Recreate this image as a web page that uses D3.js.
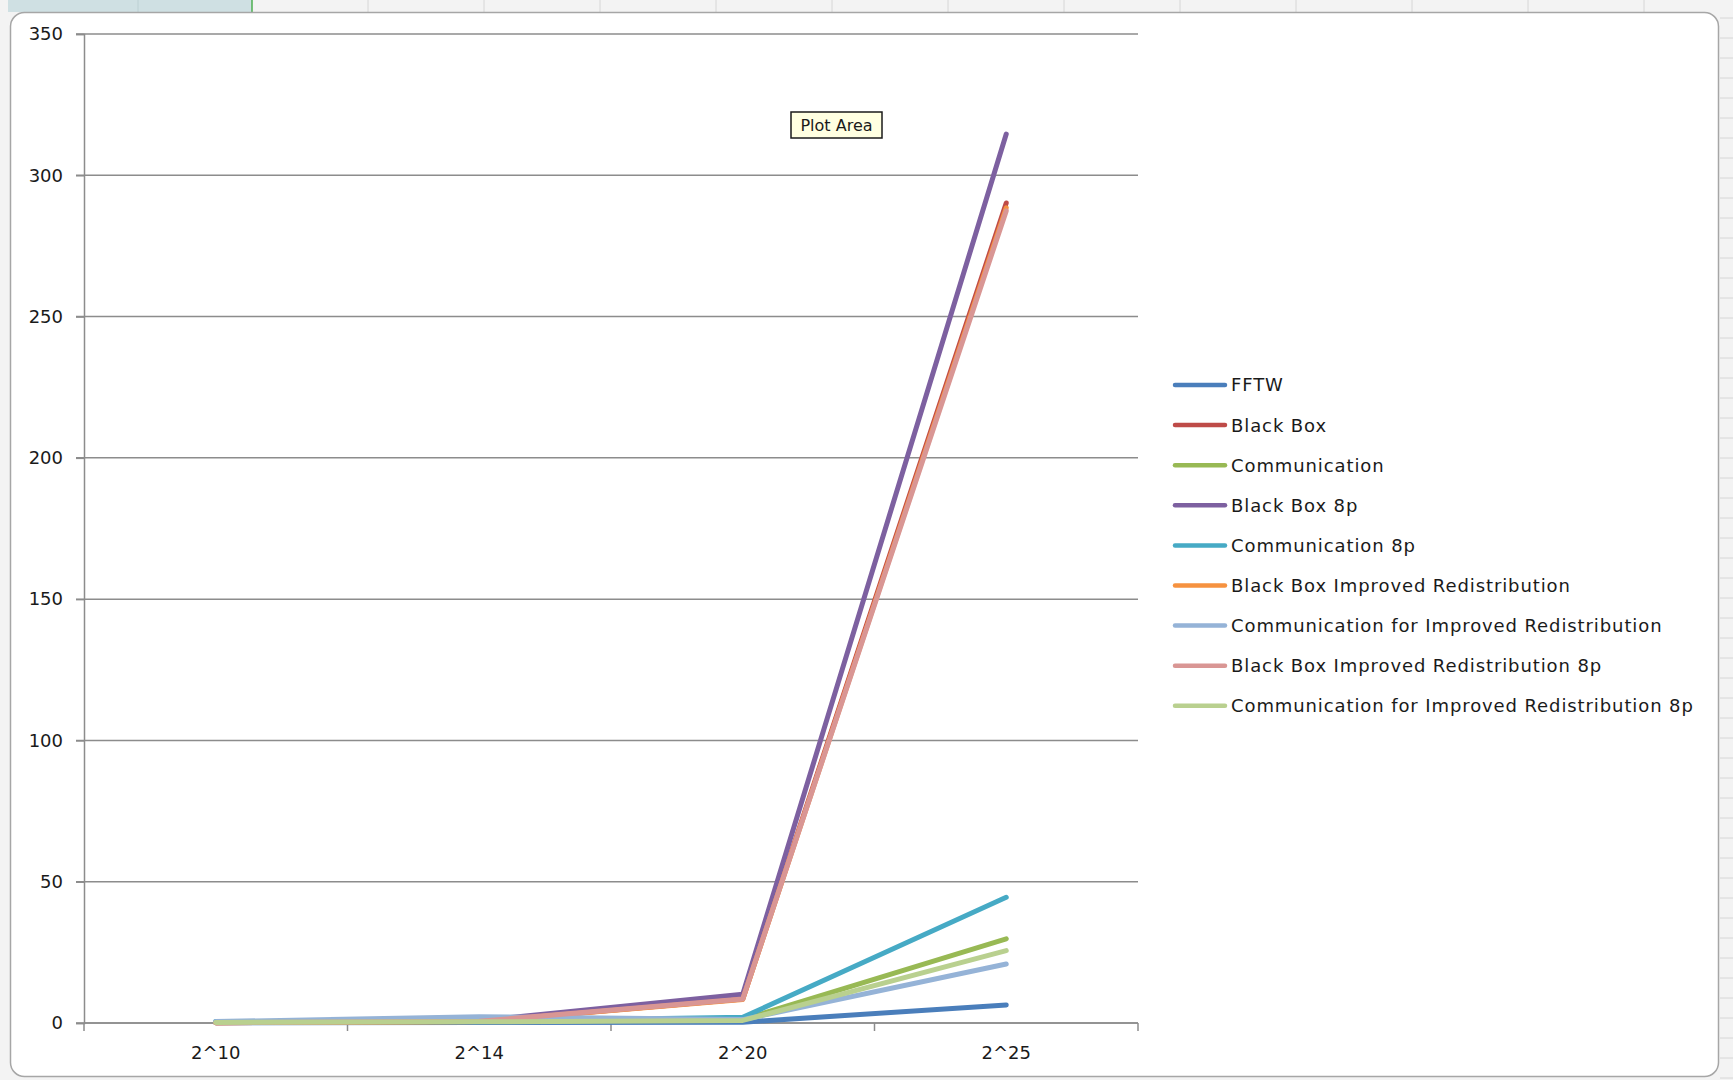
<!DOCTYPE html>
<html>
<head>
<meta charset="utf-8">
<script src="https://cdn.jsdelivr.net/npm/d3@7"></script>
<style>
  body { margin: 0; background: #f3f3f3; }
  text { font-family: "DejaVu Sans", Verdana, sans-serif; fill: #1a1a1a; }
</style>
</head>
<body>
<div id="chart"></div>
<script>
(function () {
    // Chart data
    const categories = ["2^10", "2^14", "2^20", "2^25"];
    const seriesNames = [
        "FFTW",
        "Black Box",
        "Communication",
        "Black Box 8p",
        "Communication 8p",
        "Black Box Improved Redistribution",
        "Communication for Improved Redistribution",
        "Black Box Improved Redistribution 8p",
        "Communication for Improved Redistribution 8p"
    ];
    const seriesValues = [
        [0.05, 0.2, 0.3, 6.4],
        [0.1, 0.5, 8.5, 290.2],
        [0.3, 0.5, 1.2, 29.8],
        [0.3, 0.8, 10.2, 314.6],
        [0.5, 0.6, 2.0, 44.5],
        [0.1, 0.5, 8.3, 288.5],
        [0.5, 2.2, 1.2, 20.9],
        [0.1, 0.6, 8.5, 287.4],
        [0.2, 0.4, 0.9, 25.6]
    ];
    const seriesColors = ["#4a7ebb", "#be4b48", "#98b954", "#7d60a0", "#46aac5",
                          "#f69240", "#95b3d7", "#d99694", "#b9d08f"];
    const yTicks = [0, 50, 100, 150, 200, 250, 300, 350];

    const width = 1733, height = 1080;
    const plot = { left: 84, right: 1138, top: 34, bottom: 1023 };

    const svg = d3.select("#chart")
        .append("svg")
        .attr("width", width)
        .attr("height", height);

    // Spreadsheet behind the chart (cell grid at the edges)
    svg.append("rect").attr("width", width).attr("height", height).attr("fill", "#f3f3f3");
    svg.append("rect").attr("x", 8).attr("y", 0).attr("width", 244).attr("height", 12).attr("fill", "#cfe0e3");
    svg.append("line").attr("x1", 252).attr("x2", 252).attr("y1", 0).attr("y2", 12)
        .attr("stroke", "#4caf50").attr("stroke-width", 1.5);
    d3.range(368, 1720, 116).forEach(x => {
        svg.append("line").attr("x1", x).attr("x2", x).attr("y1", 0).attr("y2", 12)
            .attr("stroke", "#d6d6d6");
    });
    svg.append("line").attr("x1", 138).attr("x2", 138).attr("y1", 0).attr("y2", 12).attr("stroke", "#bcd0d3");
    d3.range(18, 1080, 20).forEach(y => {
        svg.append("line").attr("x1", 1720).attr("x2", 1733).attr("y1", y).attr("y2", y)
            .attr("stroke", "#d6d6d6");
    });

    // Chart frame
    svg.append("rect")
        .attr("x", 10.5).attr("y", 12.5)
        .attr("width", 1708).attr("height", 1064)
        .attr("rx", 14).attr("ry", 14)
        .attr("fill", "#ffffff")
        .attr("stroke", "#a6a6a6")
        .attr("stroke-width", 1.5);

    // Scales
    const x = d3.scaleBand().domain(categories).range([plot.left, plot.right]);
    const y = d3.scaleLinear().domain([0, 350]).range([plot.bottom, plot.top]);

    // Gridlines
    svg.append("g")
        .selectAll("line")
        .data(yTicks)
        .enter()
        .append("line")
        .attr("x1", plot.left - 8)
        .attr("x2", plot.right)
        .attr("y1", d => y(d))
        .attr("y2", d => y(d))
        .attr("stroke", "#8c8c8c")
        .attr("stroke-width", 1.5);

    // Y axis
    const yAxis = svg.append("g")
        .attr("transform", `translate(${plot.left},0)`)
        .call(d3.axisLeft(y).tickValues(yTicks).tickSize(8).tickPadding(13));
    yAxis.select(".domain").attr("stroke", "#8c8c8c").attr("stroke-width", 1.5);
    yAxis.selectAll(".tick line").attr("stroke", "#8c8c8c").attr("stroke-width", 1.5);
    yAxis.selectAll(".tick text")
        .style("font-size", "18px")
        .style("font-family", "DejaVu Sans, sans-serif")
        .attr("fill", "#1a1a1a");

    // X axis: ticks between categories
    const xAxis = svg.append("g")
        .attr("transform", `translate(0,${plot.bottom})`)
        .call(d3.axisBottom(x).tickSize(0).tickPadding(23));
    xAxis.select(".domain").remove();
    xAxis.append("line")
        .attr("x1", plot.left).attr("x2", plot.right)
        .attr("stroke", "#8c8c8c").attr("stroke-width", 1.5);
    xAxis.selectAll(".bound")
        .data(categories)
        .enter()
        .append("line")
        .attr("x1", d => x(d) + x.bandwidth())
        .attr("x2", d => x(d) + x.bandwidth())
        .attr("y1", 0).attr("y2", 8)
        .attr("stroke", "#8c8c8c").attr("stroke-width", 1.5);
    xAxis.append("line")
        .attr("x1", plot.left).attr("x2", plot.left)
        .attr("y1", 0).attr("y2", 8)
        .attr("stroke", "#8c8c8c").attr("stroke-width", 1.5);
    xAxis.selectAll(".tick text")
        .style("font-size", "18px")
        .style("font-family", "DejaVu Sans, sans-serif")
        .attr("fill", "#1a1a1a");

    // Lines
    const line = d3.line()
        .x((d, i) => x(categories[i]) + x.bandwidth() / 2)
        .y(d => y(d));

    svg.append("g")
        .selectAll("path")
        .data(seriesValues)
        .enter()
        .append("path")
        .attr("d", d => line(d))
        .attr("fill", "none")
        .attr("stroke", (d, i) => seriesColors[i])
        .attr("stroke-width", 5)
        .attr("stroke-linejoin", "round")
        .attr("stroke-linecap", "round");

    // Legend
    const legend = svg.append("g").attr("transform", "translate(1175,385)");
    const items = legend.selectAll("g")
        .data(seriesNames)
        .enter()
        .append("g")
        .attr("transform", (d, i) => `translate(0,${i * 40.1})`);
    items.append("line")
        .attr("x1", 0).attr("x2", 50)
        .attr("stroke", (d, i) => seriesColors[i])
        .attr("stroke-width", 4.5)
        .attr("stroke-linecap", "round");
    items.append("text")
        .attr("x", 56)
        .attr("dy", "0.36em")
        .style("font-size", "18px")
        .style("letter-spacing", "0.9px")
        .text(d => d);

    // "Plot Area" hover tip
    const tip = svg.append("g").attr("transform", "translate(791,112)");
    tip.append("rect")
        .attr("width", 91).attr("height", 26)
        .attr("fill", "#ffffe1")
        .attr("stroke", "#1a1a1a")
        .attr("stroke-width", 1.5);
    tip.append("text")
        .attr("x", 45.5).attr("y", 13)
        .attr("dy", "0.36em")
        .attr("text-anchor", "middle")
        .style("font-size", "16px")
        .text("Plot Area");
})();
</script>
</body>
</html>
